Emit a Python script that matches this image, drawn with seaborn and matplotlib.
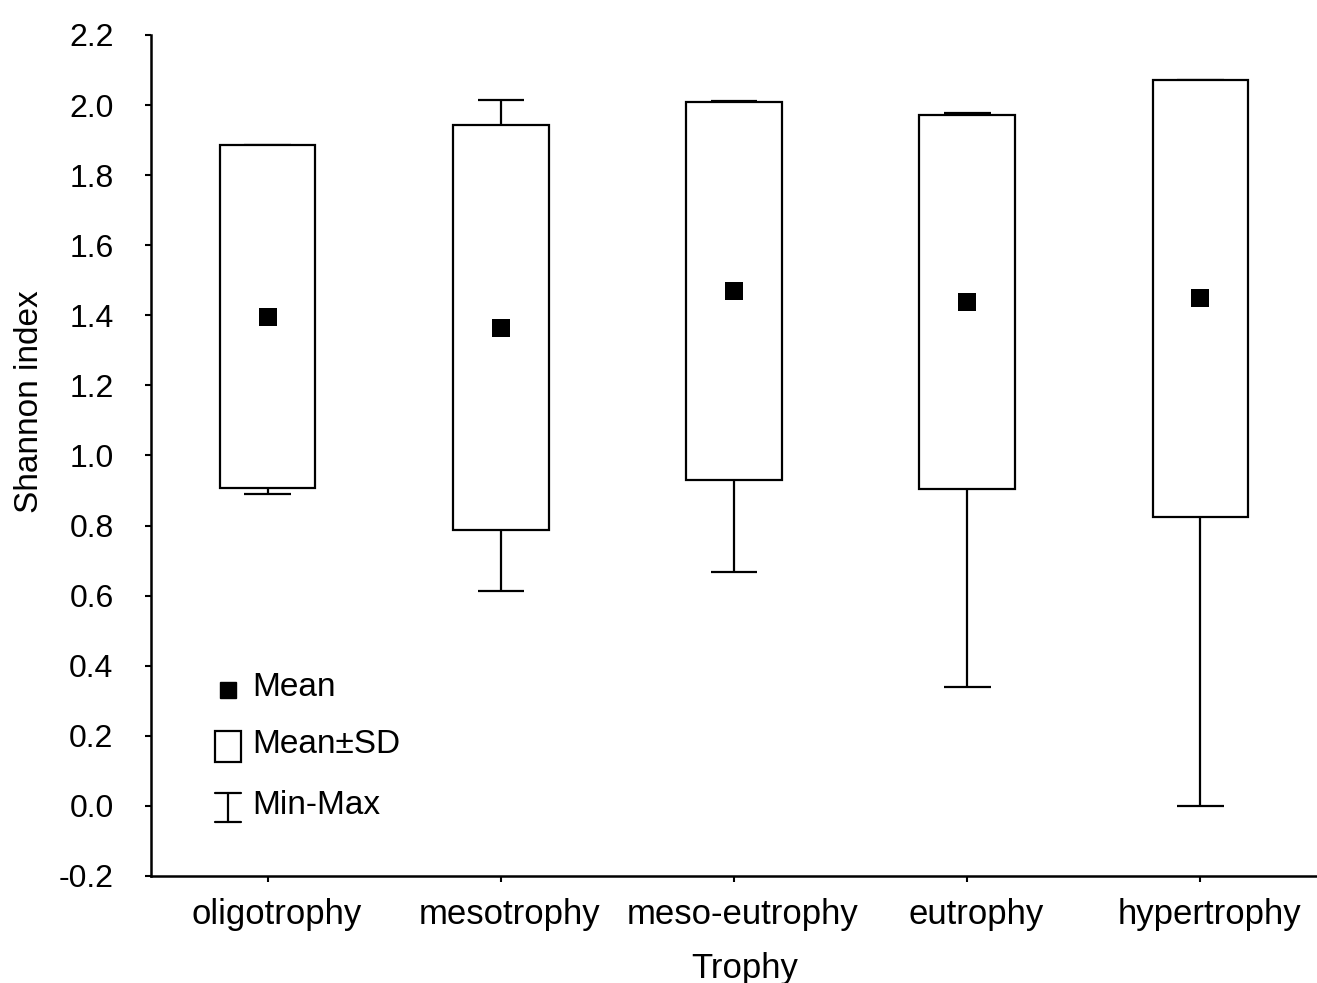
import numpy as np
import pandas as pd
import matplotlib
matplotlib.use("Agg")
import matplotlib.pyplot as plt
from matplotlib.lines import Line2D
from matplotlib.patches import Rectangle
from matplotlib.transforms import ScaledTranslation
import seaborn as sns

# values
trophy = ["oligotrophy", "mesotrophy", "meso-eutrophy", "eutrophy", "hypertrophy"]
mean_h = [1.396, 1.365, 1.470, 1.438, 1.448]
sd_h = [0.490, 0.578, 0.540, 0.534, 0.624]
min_h = [0.890, 0.614, 0.668, 0.340, 0.000]
max_h = [1.886, 2.015, 2.012, 1.978, 2.072]

df = pd.DataFrame({"trophy": trophy, "mean": mean_h, "sd": sd_h,
                   "min": min_h, "max": max_h})
df["lo"] = df["mean"] - df["sd"]
df["hi"] = df["mean"] + df["sd"]

sns.set_style("ticks")
plt.rcParams["font.family"] = ["Liberation Sans", "DejaVu Sans"]
for k in ["text.color", "axes.labelcolor", "xtick.color", "ytick.color", "axes.edgecolor"]:
    plt.rcParams[k] = "black"

fig = plt.figure(figsize=(13.17, 9.83), dpi=100)
ax = fig.add_axes([0.1147, 0.1089, 0.8853, 0.8555])

x = np.arange(len(df))
box_w = 0.41
cap_w = 0.2
lw = 1.6

# Mean +- SD boxes
ax.bar(x, df["hi"] - df["lo"], bottom=df["lo"], width=box_w,
       facecolor="white", edgecolor="black", linewidth=lw, zorder=2)

# Min-Max whiskers
ax.vlines(x, df["hi"], df["max"], color="black", linewidth=lw, zorder=1)
ax.vlines(x, df["min"], df["lo"], color="black", linewidth=lw, zorder=1)
ax.hlines(df["max"], x - cap_w / 2, x + cap_w / 2, color="black", linewidth=lw, zorder=1)
ax.hlines(df["min"], x - cap_w / 2, x + cap_w / 2, color="black", linewidth=lw, zorder=1)

# means
sns.scatterplot(x=x, y=df["mean"], marker="s", s=150, color="black",
                edgecolor="black", linewidth=0, ax=ax, zorder=3)

ax.set_xlim(-0.5, 4.5)
ax.set_ylim(-0.2, 2.2)
yt = np.arange(-0.2, 2.21, 0.2)
ax.set_yticks(yt)
ax.set_yticklabels([f"{v:.1f}" for v in yt], fontsize=23)
ax.set_xticks(x)
ax.set_xticklabels(trophy, fontsize=25)
ax.tick_params(axis="both", direction="out", length=4, width=1.5)
ax.tick_params(axis="x", pad=12)
ax.tick_params(axis="y", pad=23)
shift = ScaledTranslation(9 / 100, 0, fig.dpi_scale_trans)
for lbl in ax.get_xticklabels():
    lbl.set_transform(lbl.get_transform() + shift)

ax.set_xlabel("Trophy", fontsize=25)
ax.set_ylabel("Shannon index", fontsize=24)
ax.xaxis.set_label_coords(0.5094, -0.0900)
ax.yaxis.set_label_coords(-0.091, 0.5636)

for s in ["top", "right"]:
    ax.spines[s].set_visible(False)
for s in ["left", "bottom"]:
    ax.spines[s].set_linewidth(1.8)

# hand-made legend
t = ax.transAxes
ax.add_line(Line2D([0.066], [0.221], marker="s", markersize=11, color="black",
                   linestyle="none", transform=t))
ax.add_patch(Rectangle((0.055, 0.136), 0.022, 0.036, facecolor="white",
                       edgecolor="black", linewidth=lw, transform=t))
ax.add_line(Line2D([0.066, 0.066], [0.064, 0.099], color="black", linewidth=lw, transform=t))
ax.add_line(Line2D([0.055, 0.077], [0.099, 0.099], color="black", linewidth=lw, transform=t))
ax.add_line(Line2D([0.055, 0.077], [0.064, 0.064], color="black", linewidth=lw, transform=t))
for yy, lab in [(0.224, "Mean"), (0.156, "Mean\u00b1SD"), (0.084, "Min-Max")]:
    ax.text(0.0866, yy, lab, transform=t, fontsize=24, va="center", ha="left")

fig.savefig("out.png", dpi=100)
